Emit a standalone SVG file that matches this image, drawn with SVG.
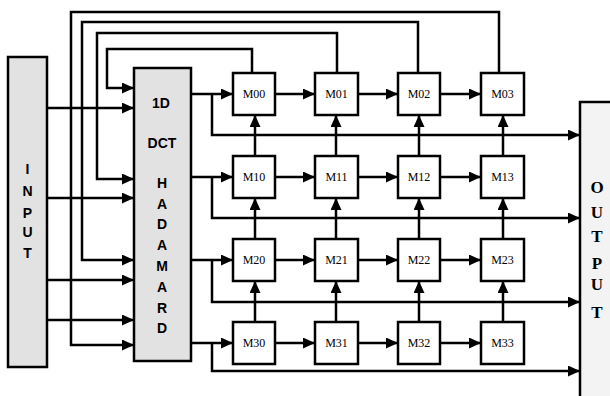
<svg xmlns="http://www.w3.org/2000/svg" width="610" height="396" viewBox="0 0 610 396">
<defs>
<marker id="ah" markerUnits="userSpaceOnUse" markerWidth="13" markerHeight="11" refX="12" refY="5.5" orient="auto"><path d="M0,0 L12,5.5 L0,11 z" fill="#000"/></marker>
</defs>
<style>
.blk{fill:#e2e2e2;stroke:#000;stroke-width:2.5}
.out{fill:#f3f3f3;stroke:#000;stroke-width:2.5}
.m{fill:#fff;stroke:#000;stroke-width:2.5}
.c{fill:none;stroke:#000;stroke-width:2.5;marker-end:url(#ah)}
.bs{font-family:"Liberation Sans",Arial,sans-serif;font-weight:bold;font-size:14px;text-anchor:middle}
.os{font-family:"Liberation Serif","Times New Roman",serif;font-weight:bold;font-size:17px;text-anchor:middle}
.mt{font-family:"Liberation Serif","Times New Roman",serif;font-size:12px;text-anchor:middle}
</style>
<rect width="610" height="396" fill="#fff"/>
<g id="connectors">
<path class="c" d="M252,73 V49 H107 V88 H134"/>
<path class="c" d="M337,73 V33 H97 V179 H134"/>
<path class="c" d="M418,73 V22 H82 V260 H134"/>
<path class="c" d="M499,73 V12 H71 V345 H134"/>
<path class="c" d="M47,108 H134"/>
<path class="c" d="M47,198 H134"/>
<path class="c" d="M47,280 H134"/>
<path class="c" d="M47,320 H134"/>
<path class="c" d="M191,94 H233"/>
<path class="c" d="M191,177 H233"/>
<path class="c" d="M191,260 H233"/>
<path class="c" d="M191,343 H233"/>
<path class="c" d="M212,94 V135 H580"/>
<path class="c" d="M212,177 V218 H580"/>
<path class="c" d="M212,260 V302 H580"/>
<path class="c" d="M212,343 V371 H580"/>
<path class="c" d="M275,94 H315"/><path class="c" d="M358,94 H398"/><path class="c" d="M440,94 H481"/>
<path class="c" d="M275,177 H315"/><path class="c" d="M358,177 H398"/><path class="c" d="M440,177 H481"/>
<path class="c" d="M275,260 H315"/><path class="c" d="M358,260 H398"/><path class="c" d="M440,260 H481"/>
<path class="c" d="M275,343 H315"/><path class="c" d="M358,343 H398"/><path class="c" d="M440,343 H481"/>
<path class="c" d="M255,156 V115"/><path class="c" d="M336,156 V115"/><path class="c" d="M419,156 V115"/><path class="c" d="M503,156 V115"/>
<path class="c" d="M255,239 V198"/><path class="c" d="M336,239 V198"/><path class="c" d="M419,239 V198"/><path class="c" d="M503,239 V198"/>
<path class="c" d="M255,322 V281"/><path class="c" d="M336,322 V281"/><path class="c" d="M419,322 V281"/><path class="c" d="M503,322 V281"/>
</g>
<g id="input">
<rect class="blk" x="8" y="57" width="39" height="310"/>
<text class="bs" x="27.5" y="174">I</text>
<text class="bs" x="27.5" y="196">N</text>
<text class="bs" x="27.5" y="218">P</text>
<text class="bs" x="27.5" y="237">U</text>
<text class="bs" x="27.5" y="258">T</text>
</g>
<g id="dct">
<rect class="blk" x="134" y="68" width="57" height="293"/>
<text class="bs" x="161" y="108">1D</text>
<text class="bs" x="162" y="148">DCT</text>
<text class="bs" x="162" y="188">H</text>
<text class="bs" x="162" y="209">A</text>
<text class="bs" x="162" y="229">D</text>
<text class="bs" x="162" y="250">A</text>
<text class="bs" x="162" y="271">M</text>
<text class="bs" x="162" y="292">A</text>
<text class="bs" x="162" y="313">R</text>
<text class="bs" x="162" y="333">D</text>
</g>
<g id="output">
<rect class="out" x="580" y="102" width="40" height="300"/>
<text class="os" x="597" y="193">O</text>
<text class="os" x="597" y="218">U</text>
<text class="os" x="597" y="242">T</text>
<text class="os" x="597" y="269">P</text>
<text class="os" x="597" y="290">U</text>
<text class="os" x="597" y="318">T</text>
</g>
<g id="M00"><rect class="m" x="233" y="73" width="42" height="42"/><text class="mt" x="254" y="98">M00</text></g>
<g id="M01"><rect class="m" x="315" y="73" width="43" height="42"/><text class="mt" x="336.5" y="98">M01</text></g>
<g id="M02"><rect class="m" x="398" y="73" width="42" height="42"/><text class="mt" x="419" y="98">M02</text></g>
<g id="M03"><rect class="m" x="481" y="73" width="43" height="42"/><text class="mt" x="502.5" y="98">M03</text></g>
<g id="M10"><rect class="m" x="233" y="156" width="42" height="42"/><text class="mt" x="254" y="181">M10</text></g>
<g id="M11"><rect class="m" x="315" y="156" width="43" height="42"/><text class="mt" x="336.5" y="181">M11</text></g>
<g id="M12"><rect class="m" x="398" y="156" width="42" height="42"/><text class="mt" x="419" y="181">M12</text></g>
<g id="M13"><rect class="m" x="481" y="156" width="43" height="42"/><text class="mt" x="502.5" y="181">M13</text></g>
<g id="M20"><rect class="m" x="233" y="239" width="42" height="42"/><text class="mt" x="254" y="264">M20</text></g>
<g id="M21"><rect class="m" x="315" y="239" width="43" height="42"/><text class="mt" x="336.5" y="264">M21</text></g>
<g id="M22"><rect class="m" x="398" y="239" width="42" height="42"/><text class="mt" x="419" y="264">M22</text></g>
<g id="M23"><rect class="m" x="481" y="239" width="43" height="42"/><text class="mt" x="502.5" y="264">M23</text></g>
<g id="M30"><rect class="m" x="233" y="322" width="42" height="42"/><text class="mt" x="254" y="347">M30</text></g>
<g id="M31"><rect class="m" x="315" y="322" width="43" height="42"/><text class="mt" x="336.5" y="347">M31</text></g>
<g id="M32"><rect class="m" x="398" y="322" width="42" height="42"/><text class="mt" x="419" y="347">M32</text></g>
<g id="M33"><rect class="m" x="481" y="322" width="43" height="42"/><text class="mt" x="502.5" y="347">M33</text></g>
</svg>
